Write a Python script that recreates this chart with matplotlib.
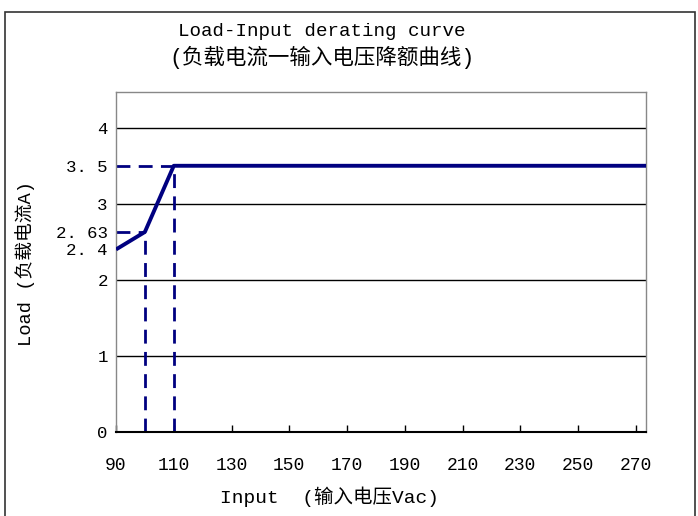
import matplotlib.pyplot as plt
from matplotlib.patches import Rectangle

# data
input_v = [90, 100, 110, 275]
load_a = [2.4, 2.63, 3.5, 3.5]
knee_x = [100, 110]
knee_y = [2.63, 3.5]
x_ticks = [90, 110, 130, 150, 170, 190, 210, 230, 250, 270]
y_ticks = [0, 1, 2, 2.4, 2.63, 3, 3.5, 4]
y_labels = ["0", "1", "2", "2. 4", "2. 63", "3", "3. 5", "4"]
grid_y = [1, 2, 3, 4]

fams = ["Liberation Mono", "Noto Sans CJK SC", "DejaVu Sans"]
plt.rcParams["font.family"] = fams

fig = plt.figure(figsize=(6.98, 5.16), dpi=100)
fig.patches.append(Rectangle((5 / 698, -0.1), 690 / 698, 1.1 - 12 / 516,
                             transform=fig.transFigure, fill=False,
                             edgecolor="#333333", linewidth=1.2))

ax = fig.add_axes([116 / 698, 1 - 432 / 516, 530 / 698, 340 / 516])
navy = "#000080"

for g in grid_y:
    ax.axhline(g, color="black", linewidth=1.0, zorder=1)

for x, y in zip(knee_x, knee_y):
    ax.plot([x, x], [0, y], color=navy, linestyle=(0, (5, 3)), linewidth=2.0, zorder=2)
    ax.plot([90, x], [y, y], color=navy, linestyle=(0, (5, 3)), linewidth=2.0, zorder=2)

ax.plot(input_v, load_a, color=navy, linewidth=2.8, zorder=3, solid_capstyle="butt")

ax.set_xlim(90, 273.5)
ax.set_ylim(0, 4.47)
ax.set_xticks(x_ticks)
ax.set_yticks(y_ticks)
ax.set_yticklabels(y_labels)
ax.tick_params(axis="x", direction="in", length=5, width=1, pad=18, labelsize=13)
ax.tick_params(axis="y", length=0, pad=6, labelsize=12.5)
for s in ["left", "right", "top"]:
    ax.spines[s].set_color("#888888")
    ax.spines[s].set_linewidth(1.0)
ax.spines["bottom"].set_color("black")
ax.spines["bottom"].set_linewidth(1.5)

fig.text(322 / 698, 1 - 31 / 516, "Load-Input derating curve", ha="center", va="center", fontsize=13.8)
fig.text(322 / 698, 1 - 57 / 516, "(负载电流一输入电压降额曲线)", ha="center", va="center", fontsize=15.5)
fig.text(330 / 698, 1 - 497 / 516, "Input  (输入电压Vac)", ha="center", va="center", fontsize=14)
fig.text(25 / 698, 1 - 263 / 516, "Load (负载电流A)", ha="center", va="center", fontsize=13.5, rotation=90)

fig.savefig("out.png", dpi=100)
